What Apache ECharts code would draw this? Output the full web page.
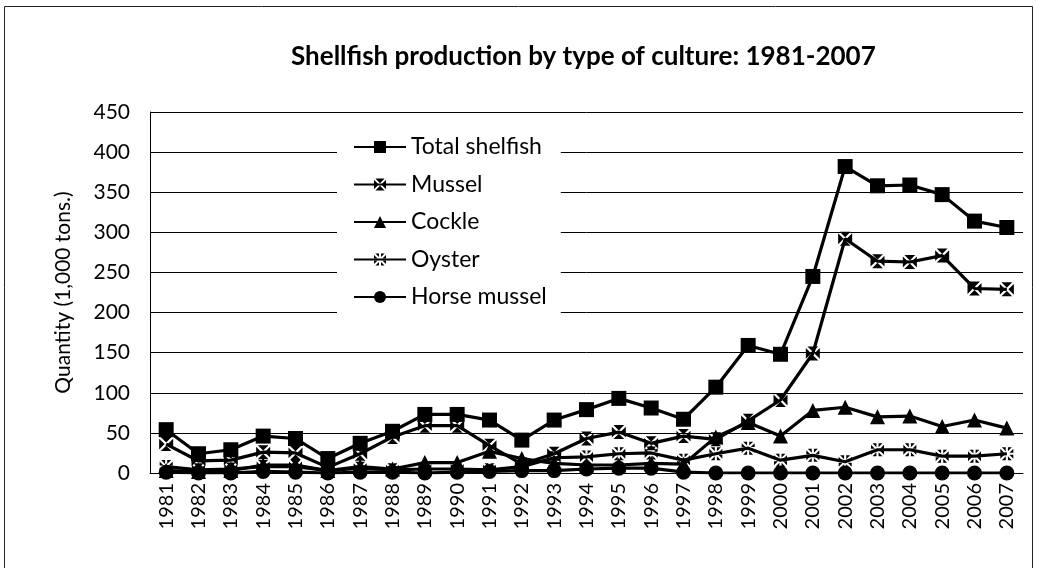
<!DOCTYPE html>
<html>
<head>
<meta charset="utf-8">
<title>Shellfish production by type of culture</title>
<script src="https://cdn.jsdelivr.net/npm/echarts@6/dist/echarts.min.js"></script>
<style>
  html, body { margin: 0; padding: 0; background: #fff; }
  #chart { width: 1037px; height: 568px; }
</style>
</head>
<body>
<div id="chart"></div>
<script>
const years = ['1981', '1982', '1983', '1984', '1985', '1986', '1987', '1988', '1989', '1990',
  '1991', '1992', '1993', '1994', '1995', '1996', '1997', '1998', '1999', '2000',
  '2001', '2002', '2003', '2004', '2005', '2006', '2007']

const totalShelfish = [54, 24, 29, 46, 43, 18, 37, 52, 73, 73, 66, 41, 66, 79, 93, 81, 67, 107, 159, 148, 245, 382, 358, 359, 347, 314, 306]
const mussel = [36, 15, 16, 26, 25, 7, 24, 45, 59, 59, 34, 11, 24, 43, 51, 37, 46, 42, 65, 91, 149, 292, 264, 263, 271, 230, 229]
const cockle = [3, 2, 3, 10, 10, 3, 8, 5, 13, 13, 27, 18, 12, 10, 10, 12, 11, 45, 63, 46, 78, 82, 70, 71, 58, 66, 56]
const oyster = [8, 4, 5, 8, 8, 3, 6, 4, 5, 5, 4, 8, 19, 20, 24, 25, 16, 24, 31, 16, 22, 14, 29, 29, 21, 21, 24]
const horseMussel = [1, 0, 0, 2, 1, 0, 1, 1, 0, 1, 2, 3, 3, 5, 6, 6, 1, 0, 0, 0, 0, 0, 0, 0, 0, 0, 0]

const yTicks = { min: 0, max: 450, interval: 50 }

// black square with a white X through it
const musselSymbol = 'path://M1.6,0L12.4,0L7,5.4Z M14,1.6L14,12.4L8.6,7Z M12.4,14L1.6,14L7,8.6Z M0,12.4L0,1.6L5.4,7Z'

// black square with white X and + through it (8 wedges)
function starSquare() {
  const base = [[1, -6], [4.6, -6], [1, -2.4]]
  const parts = []
  for (let r = 0; r < 4; r++) {
    for (const flip of [1, -1]) {
      const pts = base.map(([x, y]) => {
        let px = x * flip
        let py = y
        for (let i = 0; i < r; i++) {
          const t = px
          px = -py
          py = t
        }
        return (px + 6).toFixed(2) + ',' + (py + 6).toFixed(2)
      })
      parts.push('M' + pts.join('L') + 'Z')
    }
  }
  return 'path://' + parts.join(' ')
}
const oysterSymbol = starSquare()

const font = 'Lato, "Open Sans", sans-serif'

function lineSeries(name, data, symbol, size) {
  return {
    name: name,
    type: 'line',
    data: data,
    symbol: symbol,
    symbolSize: size,
    showAllSymbol: true,
    lineStyle: { color: '#000', width: 3.2 },
    itemStyle: { color: '#000', borderWidth: 0 },
    emphasis: { disabled: true },
    animation: false
  }
}

const option = {
  backgroundColor: '#fff',
  animation: false,
  title: {
    text: 'Shellfish production by type of culture: 1981-2007',
    left: 286,
    top: 39,
    textStyle: {
      color: '#000',
      fontFamily: font,
      fontSize: 26,
      fontWeight: 'bold'
    }
  },
  legend: {
    orient: 'vertical',
    left: 337,
    top: 127,
    padding: [8, 14, 8, 16],
    backgroundColor: '#fff',
    itemWidth: 52,
    itemHeight: 15,
    itemGap: 13.5,
    textStyle: { color: '#000', fontFamily: font, fontSize: 23, lineHeight: 24 },
    data: ['Total shelfish', 'Mussel', 'Cockle', 'Oyster', 'Horse mussel']
  },
  grid: {
    left: 150,
    right: 14,
    top: 112,
    bottom: 95
  },
  xAxis: {
    type: 'category',
    data: years,
    boundaryGap: true,
    axisLine: { lineStyle: { color: '#000', width: 1 } },
    axisTick: { show: false },
    axisLabel: {
      rotate: 90,
      interval: 0,
      color: '#000',
      fontFamily: font,
      fontSize: 20,
      margin: 10
    }
  },
  yAxis: {
    type: 'value',
    min: yTicks.min,
    max: yTicks.max,
    interval: yTicks.interval,
    name: 'Quantity (1,000 tons.)',
    nameLocation: 'middle',
    nameGap: 76,
    nameTextStyle: { color: '#000', fontFamily: font, fontSize: 21 },
    axisLine: { show: true, lineStyle: { color: '#000', width: 1 } },
    axisTick: { show: false },
    splitLine: { lineStyle: { color: '#000', width: 1 } },
    axisLabel: {
      color: '#000',
      fontFamily: font,
      fontSize: 21,
      margin: 20
    }
  },
  graphic: [
    {
      type: 'rect',
      shape: { x: 4.5, y: 6.5, width: 1028, height: 580 },
      style: { fill: 'none', stroke: '#222', lineWidth: 1 },
      silent: true
    }
  ],
  series: [
    lineSeries('Total shelfish', totalShelfish, 'rect', 15),
    lineSeries('Mussel', mussel, musselSymbol, 14),
    lineSeries('Cockle', cockle, 'triangle', 15),
    lineSeries('Oyster', oyster, oysterSymbol, 13),
    lineSeries('Horse mussel', horseMussel, 'circle', 15)
  ]
}

const chart = echarts.init(document.getElementById('chart'))
chart.setOption(option)
</script>
</body>
</html>
